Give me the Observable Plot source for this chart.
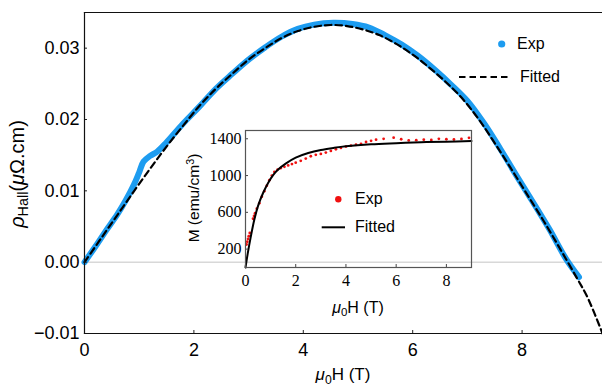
<!DOCTYPE html>
<html>
<head>
<meta charset="utf-8">
<script src="https://cdn.jsdelivr.net/npm/d3@7"></script>
<script src="https://cdn.jsdelivr.net/npm/@observablehq/plot@0.6"></script>
<style>
  html, body { margin: 0; padding: 0; background: white; }
  #wrap { position: relative; width: 602px; height: 387px; overflow: hidden; font-family: "Liberation Sans", Arial, sans-serif; }
  #wrap svg { position: absolute; left: 0; top: 0; }
  .lbl { position: absolute; white-space: nowrap; transform: translate(-50%, -50%); line-height: 1; color: black; }
  .leg { position: absolute; white-space: nowrap; transform: translate(0, -50%); line-height: 1; font-size: 16px; }
  sub { font-size: 0.72em; vertical-align: -0.28em; }
  sup { font-size: 0.7em; vertical-align: 0.5em; }
</style>
</head>
<body>
<div id="wrap"></div>
<script>
// ---- Main panel: Hall resistivity vs field ----
const expH = [0, 0.2, 0.4, 0.6, 0.75, 0.9, 1.0, 1.08, 1.2, 1.33, 1.5, 1.8, 2.1, 2.4, 2.7, 3.0, 3.3, 3.6, 3.9, 4.2, 4.55, 4.9, 5.2, 5.5, 5.8, 6.1, 6.4, 6.7, 7.0, 7.3, 7.6, 7.9, 8.2, 8.5, 8.8, 9.04];
const expRho = [0, 0.0022, 0.0045, 0.0067, 0.0086, 0.0108, 0.0126, 0.0141, 0.0149, 0.0155, 0.0168, 0.0194, 0.0218, 0.0243, 0.0264, 0.0284, 0.0301, 0.0316, 0.0327, 0.0333, 0.03356, 0.0334, 0.0329, 0.0318, 0.0305, 0.0289, 0.0270, 0.0249, 0.0226, 0.0195, 0.0159, 0.0121, 0.0084, 0.0046, 0.0005, -0.0021];
const fitH = [0, 0.3, 0.6, 0.9, 1.2, 1.5, 1.8, 2.1, 2.4, 2.7, 3.0, 3.3, 3.6, 3.9, 4.2, 4.5, 4.8, 5.1, 5.4, 5.7, 6.0, 6.3, 6.6, 6.9, 7.2, 7.5, 7.8, 8.1, 8.4, 8.7, 9.0, 9.2, 9.47];
const fitRho = [0, 0.0033, 0.0066, 0.0099, 0.0131, 0.0162, 0.0191, 0.0219, 0.0243, 0.0264, 0.0284, 0.0300, 0.0314, 0.0324, 0.0330, 0.03325, 0.0331, 0.0326, 0.0318, 0.0306, 0.0291, 0.0273, 0.0253, 0.0230, 0.0201, 0.0167, 0.0131, 0.0094, 0.0057, 0.0018, -0.0022, -0.0050, -0.0100];
const mainXTicks = [0, 2, 4, 6, 8];
const mainYTicks = [-0.01, 0, 0.01, 0.02, 0.03];

// ---- Inset: magnetization vs field ----
const magExpH = [0.04, 0.07, 0.10, 0.13, 0.17, 0.30, 0.34, 0.38, 0.45, 0.55, 0.65, 0.75, 0.85, 0.95, 1.05, 1.15, 1.28, 1.4, 1.55, 1.7, 1.85, 2.0, 2.2, 2.4, 2.6, 2.8, 3.0, 3.2, 3.4, 3.6, 3.8, 4.0, 4.2, 4.4, 4.6, 4.8, 5.0, 5.2, 5.5, 5.9, 6.2, 6.5, 6.8, 7.1, 7.4, 7.7, 8.0, 8.3, 8.6, 8.9];
const magExpM = [250, 280, 310, 340, 375, 530, 560, 590, 640, 700, 770, 830, 890, 950, 1000, 1040, 1065, 1080, 1095, 1110, 1125, 1140, 1160, 1185, 1210, 1225, 1235, 1250, 1268, 1285, 1300, 1315, 1325, 1335, 1345, 1365, 1378, 1390, 1400, 1412, 1395, 1382, 1385, 1390, 1388, 1400, 1395, 1392, 1398, 1410];
const magFitH = [0, 0.1, 0.2, 0.35, 0.5, 0.7, 0.9, 1.1, 1.3, 1.6, 2.0, 2.5, 3.0, 3.5, 4.0, 5.0, 6.0, 7.0, 8.0, 9.0];
const magFitM = [0, 170, 320, 520, 670, 810, 920, 1005, 1065, 1130, 1195, 1245, 1278, 1300, 1318, 1340, 1352, 1362, 1369, 1375];
const insetXTicks = [0, 2, 4, 6, 8];
const insetYTicks = [200, 600, 1000, 1400];

const expData = expH.map((h, i) => ({h, v: expRho[i]}));
const fitData = fitH.map((h, i) => ({h, v: fitRho[i]}));
const magExp = magExpH.map((h, i) => ({h, m: magExpM[i]}));
const magFit = magFitH.map((h, i) => ({h, m: magFitM[i]}));

const wrap = document.getElementById("wrap");

const main = Plot.plot({
  width: 602, height: 387,
  marginLeft: 84, marginRight: 0, marginTop: 12, marginBottom: 54,
  style: {background: "transparent", fontFamily: "'Liberation Sans', Arial, sans-serif", overflow: "visible"},
  x: {domain: [0, 9.47]},
  y: {domain: [-0.01, 0.035]},
  marks: [
    Plot.ruleY([0], {stroke: "#c4c4c4", strokeWidth: 1}),
    Plot.line(expData, {x: "h", y: "v", stroke: "#1d9cf0", strokeWidth: 6, strokeLinejoin: "round", strokeLinecap: "round", curve: "catmull-rom"}),
    Plot.line(fitData, {x: "h", y: "v", stroke: "black", strokeWidth: 2.2, strokeDasharray: "6.5,4", curve: "catmull-rom"}),
    Plot.axisX({ticks: mainXTicks, tickSize: -3, tickPadding: 13, tickFormat: d => String(d), fontSize: 18, label: null, stroke: "#222"}),
    Plot.axisY({ticks: mainYTicks, tickSize: -3, tickPadding: 8, tickFormat: d3.format(".2f"), fontSize: 18, label: null, stroke: "#222"}),
    Plot.frame({anchor: "left", stroke: "#111", strokeWidth: 1.2}),
    Plot.frame({anchor: "top", stroke: "#111", strokeWidth: 1.2}),
    Plot.frame({anchor: "bottom", stroke: "#111", strokeWidth: 1.2})
  ]
});
wrap.appendChild(main);

const inset = Plot.plot({
  width: 602, height: 387,
  marginLeft: 245, marginRight: 131, marginTop: 130, marginBottom: 120,
  style: {background: "transparent", fontFamily: "'Liberation Serif', 'Times New Roman', serif", overflow: "visible"},
  x: {domain: [0, 9]},
  y: {domain: [0, 1490]},
  marks: [
    Plot.dot(magExp, {x: "h", y: "m", r: 1.4, fill: "#f01010", stroke: "none"}),
    Plot.line(magFit, {x: "h", y: "m", stroke: "black", strokeWidth: 2, curve: "catmull-rom"}),
    Plot.axisX({ticks: insetXTicks, tickSize: -3, tickPadding: 10, tickFormat: d => String(d), fontSize: 16, label: null, stroke: "#444"}),
    Plot.axisY({ticks: insetYTicks, tickSize: -3, tickPadding: 7, tickFormat: d => String(d), fontSize: 16, label: null, stroke: "#444"}),
    Plot.frame({stroke: "#555", strokeWidth: 1.2})
  ]
});
wrap.appendChild(inset);

function addLabel(html, x, y, size, cls, rotate) {
  const d = document.createElement("div");
  d.className = cls;
  d.innerHTML = html;
  d.style.left = x + "px";
  d.style.top = y + "px";
  d.style.fontSize = size + "px";
  if (rotate) d.style.transform = "translate(-50%, -50%) rotate(-90deg)";
  wrap.appendChild(d);
  return d;
}

// Axis titles
addLabel("<i>μ</i><sub>0</sub>H (T)", 343, 376, 17, "lbl");
addLabel("<i>ρ</i><sub>Hall</sub>(<i>μ</i>Ω.cm)", 19, 174, 20, "lbl", true);
addLabel("<i>μ</i><sub>0</sub>H (T)", 358, 309, 16, "lbl");
addLabel("M (emu/cm<sup>3</sup>)", 193, 198, 15.5, "lbl", true);

// Legends
const legSvg = d3.select(wrap).append("svg").attr("width", 602).attr("height", 387);
legSvg.append("circle").attr("cx", 501.7).attr("cy", 44).attr("r", 3.6).attr("fill", "#1d9cf0");
legSvg.append("line").attr("x1", 459).attr("x2", 508).attr("y1", 77).attr("y2", 77).attr("stroke", "black").attr("stroke-width", 2.2).attr("stroke-dasharray", "6.5,4");
legSvg.append("circle").attr("cx", 338.3).attr("cy", 199.3).attr("r", 3.2).attr("fill", "#f01010");
legSvg.append("line").attr("x1", 321.7).attr("x2", 345).attr("y1", 227.3).attr("y2", 227.3).attr("stroke", "black").attr("stroke-width", 2);

addLabel("Exp", 517, 44, 16, "leg");
addLabel("Fitted", 520, 77, 16, "leg");
addLabel("Exp", 355, 199, 16, "leg");
addLabel("Fitted", 355, 227, 16, "leg");
</script>
</body>
</html>
